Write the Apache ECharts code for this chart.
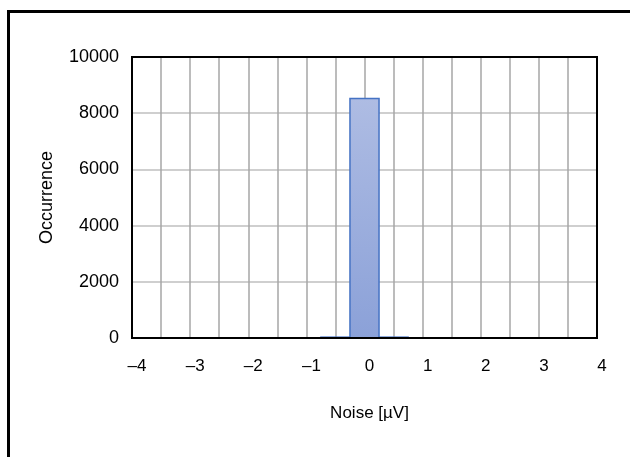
<!DOCTYPE html>
<html>
<head>
<meta charset="utf-8">
<script src="https://cdn.jsdelivr.net/npm/echarts@6/dist/echarts.min.js"></script>
<style>
html,body{margin:0;padding:0;background:#fff;}
#chart{width:630px;height:457px;}
</style>
</head>
<body>
<div id="chart"></div>
<script>
// Histogram bin centres (µV) and occurrence counts
var binCenters = [-3.5, -3, -2.5, -2, -1.5, -1, -0.5, 0, 0.5, 1, 1.5, 2, 2.5, 3, 3.5];
var counts     = [0, 0, 0, 0, 0, 0, 30, 8520, 30, 0, 0, 0, 0, 0, 0];
var binWidth = 0.5;
var xTicks = [-4, -3, -2, -1, 0, 1, 2, 3, 4];
var yTicks = [0, 2000, 4000, 6000, 8000, 10000];
var xTitle = 'Noise [\u00b5V]';
var yTitle = 'Occurrence';

var data = binCenters.map(function (c, i) { return [c, counts[i]]; });
var FONT = 'Liberation Sans, Arial, sans-serif';

var chart = echarts.init(document.getElementById('chart'), null, {renderer: 'canvas'});
chart.setOption({
  animation: false,
  backgroundColor: '#fff',
  graphic: [
    {type: 'polyline', shape: {points: [[8.5, 457], [8.5, 11.5], [630, 11.5]]},
     style: {stroke: '#000', lineWidth: 3, fill: null}}
  ],
  grid: {left: 132, right: 33, top: 57, bottom: 119, show: false},
  xAxis: {
    type: 'value', min: -4, max: 4, interval: 0.5,
    name: xTitle, nameLocation: 'middle', nameGap: 67,
    nameTextStyle: {fontFamily: FONT, fontSize: 17, color: '#000', padding: [0, 0, 0, 10]},
    axisLine: {show: false},
    axisTick: {show: false},
    splitLine: {show: true, lineStyle: {color: '#a6a6a6', width: 1.5}},
    axisLabel: {
      fontFamily: FONT, fontSize: 17, color: '#000', margin: 20,
      padding: [0, 0, 0, 10],
      showMinLabel: true, showMaxLabel: true,
      formatter: function (v) {
        if (xTicks.indexOf(v) < 0) return '';
        return v < 0 ? '\u2013' + Math.abs(v) : String(v);
      }
    }
  },
  yAxis: {
    type: 'value', min: 0, max: 10000, interval: 2000,
    name: yTitle, nameLocation: 'middle', nameGap: 76,
    nameTextStyle: {fontFamily: FONT, fontSize: 18, color: '#000'},
    axisLine: {show: false},
    axisTick: {show: false},
    splitLine: {show: true, lineStyle: {color: '#bfbfbf', width: 1.5}},
    axisLabel: {
      fontFamily: FONT, fontSize: 18, color: '#000', margin: 13,
      formatter: function (v) { return yTicks.indexOf(v) >= 0 ? String(v) : ''; }
    }
  },
  series: [
    {
      type: 'custom',
      data: data,
      renderItem: function (params, api) {
        var c = api.value(0), v = api.value(1);
        var p0 = api.coord([c - binWidth / 2, v]);
        var p1 = api.coord([c + binWidth / 2, 0]);
        return {
          type: 'rect',
          shape: {x: p0[0], y: p0[1], width: p1[0] - p0[0], height: p1[1] - p0[1]},
          style: {
            fill: new echarts.graphic.LinearGradient(0, 0, 0, 1, [
              {offset: 0, color: '#aebce3'},
              {offset: 1, color: '#8ba1d8'}
            ]),
            stroke: '#4472c4', lineWidth: 1.5
          }
        };
      },
      z: 3
    },
    {
      // plot frame
      type: 'custom',
      data: [[-4, 10000]],
      renderItem: function (params, api) {
        var a = api.coord([-4, 10000]);
        var b = api.coord([4, 0]);
        return {
          type: 'rect',
          shape: {x: a[0], y: a[1], width: b[0] - a[0], height: b[1] - a[1]},
          style: {fill: null, stroke: '#000', lineWidth: 2}
        };
      },
      z: 4, silent: true
    }
  ]
});
</script>
</body>
</html>
